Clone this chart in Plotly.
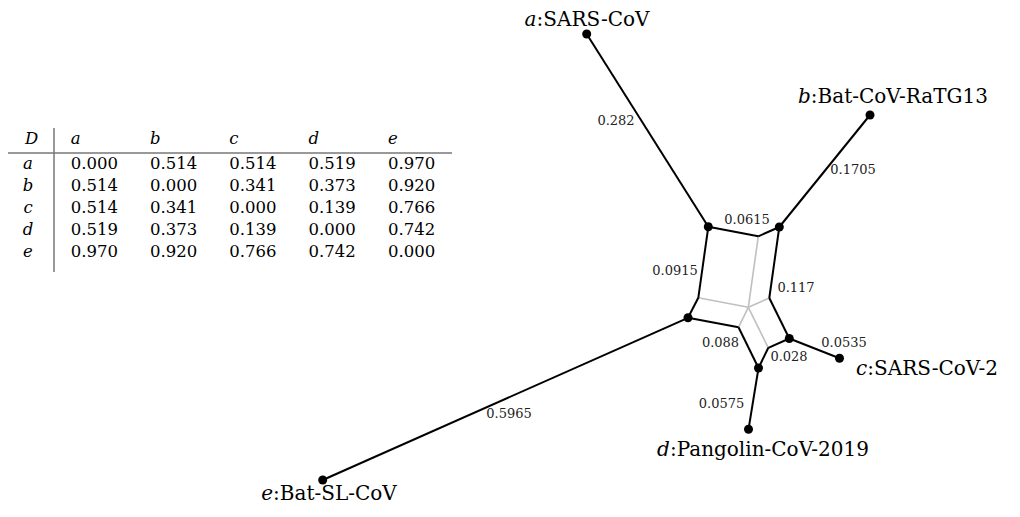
import plotly.graph_objects as go

# ---------------- data ----------------
taxa = ["a", "b", "c", "d", "e"]
taxon_names = ["SARS-CoV", "Bat-CoV-RaTG13", "SARS-CoV-2", "Pangolin-CoV-2019", "Bat-SL-CoV"]

dist_a = [0.000, 0.514, 0.514, 0.519, 0.970]
dist_b = [0.514, 0.000, 0.341, 0.373, 0.920]
dist_c = [0.514, 0.341, 0.000, 0.139, 0.766]
dist_d = [0.519, 0.373, 0.139, 0.000, 0.742]
dist_e = [0.970, 0.920, 0.766, 0.742, 0.000]
dist_rows = [dist_a, dist_b, dist_c, dist_d, dist_e]

# split-network nodes (drawing coordinates of the network layout)
node_ids = ["la", "lb", "lc", "ld", "le", "A", "B", "C", "D", "E", "T", "L", "R", "BL", "BR", "O"]
node_x = [586.7, 870.0, 839.5, 748.5, 322.7, 708.3, 779.3, 789.3, 758.5, 688.0, 758.3, 698.3, 769.3, 738.5, 768.3, 748.3]
node_y = [34.0, 115.0, 358.3, 429.3, 480.0, 226.8, 227.0, 338.5, 368.0, 317.8, 236.3, 297.8, 298.0, 327.3, 347.8, 307.3]
dot_nodes = ["la", "lb", "lc", "ld", "le", "A", "B", "C", "D", "E"]

black_edges = [("la", "A"), ("lb", "B"), ("lc", "C"), ("ld", "D"), ("le", "E"),
               ("A", "T"), ("T", "B"), ("A", "L"), ("L", "E"), ("E", "BL"), ("BL", "D"),
               ("D", "BR"), ("BR", "C"), ("C", "R"), ("R", "B")]
gray_edges = [("T", "O"), ("L", "O"), ("R", "O"), ("BL", "O"), ("BR", "O")]

split_weights = [0.282, 0.1705, 0.0615, 0.0915, 0.117, 0.088, 0.028, 0.0535, 0.0575, 0.5965]
weight_label_x = [616, 853, 747, 675, 796, 720.5, 789, 844, 721.5, 509]
weight_label_y = [122, 171, 221, 271.5, 288.5, 343.3, 357.7, 344, 405, 414.3]

leaf_label_x = [587, 893, 927, 763, 329]
leaf_label_y = [21, 98, 370, 451, 495]

# ---------------- figure ----------------
pos = dict(zip(node_ids, zip(node_x, node_y)))
W, H = 1020, 517
PAGE_OFFSET = 8  # default body margin of the html page
SERIF = "DejaVu Serif"

def seg_xy(edges):
    xs, ys = [], []
    for u, v in edges:
        xs += [pos[u][0], pos[v][0], None]
        ys += [pos[u][1], pos[v][1], None]
    return xs, ys

fig = go.Figure()

gx, gy = seg_xy(gray_edges)
fig.add_trace(go.Scatter(x=gx, y=gy, mode="lines", line=dict(color="#c0c0c0", width=1.6),
                         hoverinfo="skip", cliponaxis=False))
bx, by = seg_xy(black_edges)
fig.add_trace(go.Scatter(x=bx, y=by, mode="lines", line=dict(color="black", width=2),
                         hoverinfo="skip", cliponaxis=False))
fig.add_trace(go.Scatter(x=[pos[n][0] for n in dot_nodes], y=[pos[n][1] for n in dot_nodes],
                         mode="markers", marker=dict(color="black", size=9), hoverinfo="skip",
                         cliponaxis=False))

# split weights
fig.add_trace(go.Scatter(x=weight_label_x, y=weight_label_y, mode="text",
                         text=[str(w) for w in split_weights], textposition="middle center",
                         textfont=dict(family=SERIF, size=13, color="#222222"), hoverinfo="skip",
                         cliponaxis=False))

# leaf labels
fig.add_trace(go.Scatter(x=leaf_label_x, y=leaf_label_y, mode="text",
                         text=[f"<i>{t}</i>:{n}" for t, n in zip(taxa, taxon_names)],
                         textposition="middle center",
                         textfont=dict(family=SERIF, size=20, color="black"), hoverinfo="skip",
                         cliponaxis=False))

# distance table
col_x0, col_dx = 70.7, 79.3
row_y0, row_dy = 165.0, 22.0
head_y = 139.5
hx = [col_x0 + j * col_dx for j in range(len(taxa))]
fig.add_trace(go.Scatter(x=[31.5] + [28] * len(taxa),
                         y=[head_y] + [row_y0 + i * row_dy for i in range(len(taxa))],
                         mode="text", text=["<i>D</i>"] + [f"<i>{t}</i>" for t in taxa],
                         textposition="middle center", cliponaxis=False,
                         textfont=dict(family=SERIF, size=16.5, color="black"), hoverinfo="skip"))
fig.add_trace(go.Scatter(x=hx, y=[head_y] * len(taxa), mode="text",
                         text=[f"<i>{t}</i>" for t in taxa], textposition="middle right",
                         cliponaxis=False,
                         textfont=dict(family=SERIF, size=16.5, color="black"), hoverinfo="skip"))
nx, ny, nt = [], [], []
for i, row in enumerate(dist_rows):
    for j, v in enumerate(row):
        nx.append(col_x0 + j * col_dx); ny.append(row_y0 + i * row_dy); nt.append(f"{v:.3f}")
fig.add_trace(go.Scatter(x=nx, y=ny, mode="text", text=nt, textposition="middle right",
                         cliponaxis=False,
                         textfont=dict(family=SERIF, size=16.5, color="black"), hoverinfo="skip"))

fig.add_shape(type="line", x0=6, x1=452, y0=153, y1=153, xref="x", yref="y",
              line=dict(color="#777777", width=1.5))
fig.add_shape(type="line", x0=54, x1=54, y0=128, y1=272, xref="x", yref="y",
              line=dict(color="#777777", width=1.5))

fig.update_layout(width=W, height=H, margin=dict(l=0, r=0, t=0, b=0),
                  paper_bgcolor="white", plot_bgcolor="white", showlegend=False,
                  xaxis=dict(range=[PAGE_OFFSET, W + PAGE_OFFSET], visible=False, fixedrange=True),
                  yaxis=dict(range=[H + PAGE_OFFSET, PAGE_OFFSET], visible=False, fixedrange=True))

fig.write_html("out.html")
